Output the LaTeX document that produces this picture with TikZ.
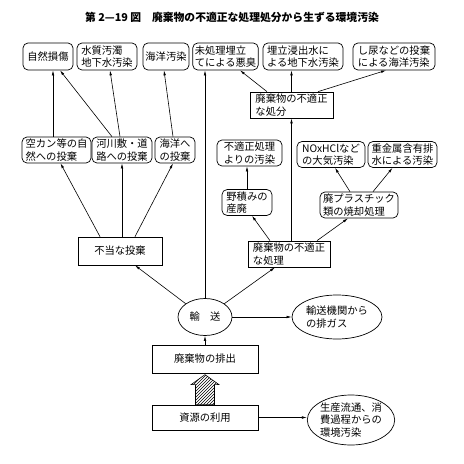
\documentclass[tikz,border=0pt]{standalone}
\usepackage{fontspec}
\setmainfont{Noto Sans CJK JP}
\usepackage{tikz}
\usetikzlibrary{shapes, arrows.meta, patterns}
\tikzstyle{block}=[draw,fill=white,rectangle,line width=0.7pt,inner sep=2pt,align=left]
\tikzstyle{rblock}=[block,rounded corners=5pt]
\tikzstyle{oval}=[draw,ellipse,line width=0.7pt,inner sep=0pt,align=left]
\tikzstyle{every node}=[font=\fontsize{10.3}{12.3}\selectfont]

\begin{document}
\begin{tikzpicture}[auto,>={Latex[length=5pt,width=2.6pt]},x=1pt,y=-1pt,line width=0.6pt]
  \useasboundingbox (0,0) rectangle (464,464);
  \node[font=\fontsize{10.8}{13}\selectfont] (title) at (232,17) {\bfseries 第 2—19 図　廃棄物の不適正な処理処分から生ずる環境汚染};

  \node[rblock,minimum width=50pt,minimum height=27pt] (shizen) at (48,56.5) {自然損傷};
  \node[rblock,minimum width=60pt,minimum height=27pt] (suishitsu) at (107,56.5) {水質汚濁\\地下水汚染};
  \node[rblock,minimum width=46pt,minimum height=27pt] (kaiyo) at (166,56.5) {海洋汚染};
  \node[rblock,minimum width=59pt,minimum height=27pt] (akushu) at (225.5,56.5) {未処理埋立\\てによる悪臭};
  \node[rblock,minimum width=80pt,minimum height=27pt] (chikasui) at (303,56.5) {埋立浸出水に\\よる地下水汚染};
  \node[rblock,minimum width=82pt,minimum height=27pt] (shinyo) at (394,56.5) {し尿などの投棄\\による海洋汚染};

  \node[block,minimum width=83pt,minimum height=26pt] (shobun) at (291.5,105) {廃棄物の不適正\\な処分};

  \node[rblock,minimum width=69pt,minimum height=26pt] (akikan) at (56.5,150) {空カン等の自\\然への投棄};
  \node[rblock,minimum width=60pt,minimum height=26pt] (kasen) at (122,150) {河川敷・道\\路への投棄};
  \node[rblock,minimum width=40pt,minimum height=26pt] (kaiyotoki) at (175,150) {海洋へ\\の投棄};

  \node[rblock,minimum width=65pt,minimum height=26pt] (osen) at (249.5,153) {不適正処理\\よりの汚染};
  \node[rblock,minimum width=68pt,minimum height=26pt] (taiki) at (331,154.5) {NOxHClなど\\の大気汚染};
  \node[rblock,minimum width=69pt,minimum height=26pt] (jukinzoku) at (402.5,154.5) {重金属含有排\\水による汚染};
  \node[rblock,minimum width=50pt,minimum height=25pt] (nozumi) at (247,202.5) {野積みの\\産廃};
  \node[rblock,minimum width=78pt,minimum height=26pt] (haipura) at (359,205) {廃プラスチック\\類の焼却処理};

  \node[block,minimum width=82pt,minimum height=26pt] (shori) at (289,254) {廃棄物の不適正\\な処理};
  \node[block,minimum width=84pt,minimum height=28pt] (futo) at (120,251) {不当な投棄};

  \node[oval,minimum width=54pt,minimum height=37pt] (yuso) at (205,317) {輸　送};
  \node[oval,minimum width=90pt,minimum height=44pt] (haigas) at (337,317) {輸送機関から\\の排ガス};
  \node[block,minimum width=106pt,minimum height=28pt] (haishutsu) at (205,359) {廃棄物の排出};
  \node[block,minimum width=106pt,minimum height=25pt] (shigen) at (205,417.5) {資源の利用};
  \node[oval,minimum width=82pt,minimum height=50pt] (seisan) at (351,420) {生産流通、消\\費過程からの\\環境汚染};

  \draw[->] ([xshift=-3.5pt]akikan.north) -- ([xshift=5pt]shizen.south);
  \draw[->] ([xshift=-10pt]kasen.north) -- ([xshift=12pt]shizen.south);
  \draw[->] ([xshift=-2pt]kasen.north) -- ([xshift=3pt]suishitsu.south);
  \draw[->] ([xshift=-2pt]kaiyotoki.north) -- ([xshift=-2pt]kaiyo.south);
  \draw[->] ([xshift=-20pt]futo.north) -- ([xshift=4pt]akikan.south);
  \draw[->] (kasen.south |- futo.north) -- (kasen.south);
  \draw[->] ([xshift=15pt]futo.north) -- ([xshift=-2pt]kaiyotoki.south);

  \draw[->] ([xshift=-24.5pt]shobun.north) -- ([xshift=14.5pt]akushu.south);
  \draw[->] (shobun.north) -- (shobun.north |- chikasui.south);
  \draw[->] ([xshift=26.5pt]shobun.north) -- ([xshift=-8pt]shinyo.south);
  \draw[->] (shobun.south |- shori.north) -- (shobun.south);
  \draw[->] ([xshift=-19pt]shori.north) -- ([xshift=5pt]nozumi.south);
  \draw[->] (nozumi.north) -- (nozumi.north |- osen.south);
  \draw[->] ([xshift=28pt]shori.north) -- ([xshift=-11pt]haipura.south);
  \draw[->] ([xshift=-9pt]haipura.north) -- ([xshift=4pt]taiki.south);
  \draw[->] ([xshift=14pt]haipura.north) -- ([xshift=-10pt]jukinzoku.south);

  \draw[->] (yuso.north west) -- ([xshift=15pt]futo.south);
  \draw[->] (yuso.north) -- (yuso.north |- akushu.south);
  \draw[->] (yuso.north east) -- ([xshift=-14pt]shori.south);
  \draw[->] (yuso.east) -- (haigas.west);
  \draw[->] (haishutsu.north) -- (yuso.south);
  \draw[->] (shigen.east) -- (shigen.east -| seisan.west);

  \draw[pattern=north east lines] ([xshift=-9.5pt]shigen.north) -- ++(0,-20) -- ++(-4.5,0)
    -- ++(14,-10) -- ++(14,10) -- ++(-4.5,0) -- ++(0,20) -- cycle;
\end{tikzpicture}
\end{document}
